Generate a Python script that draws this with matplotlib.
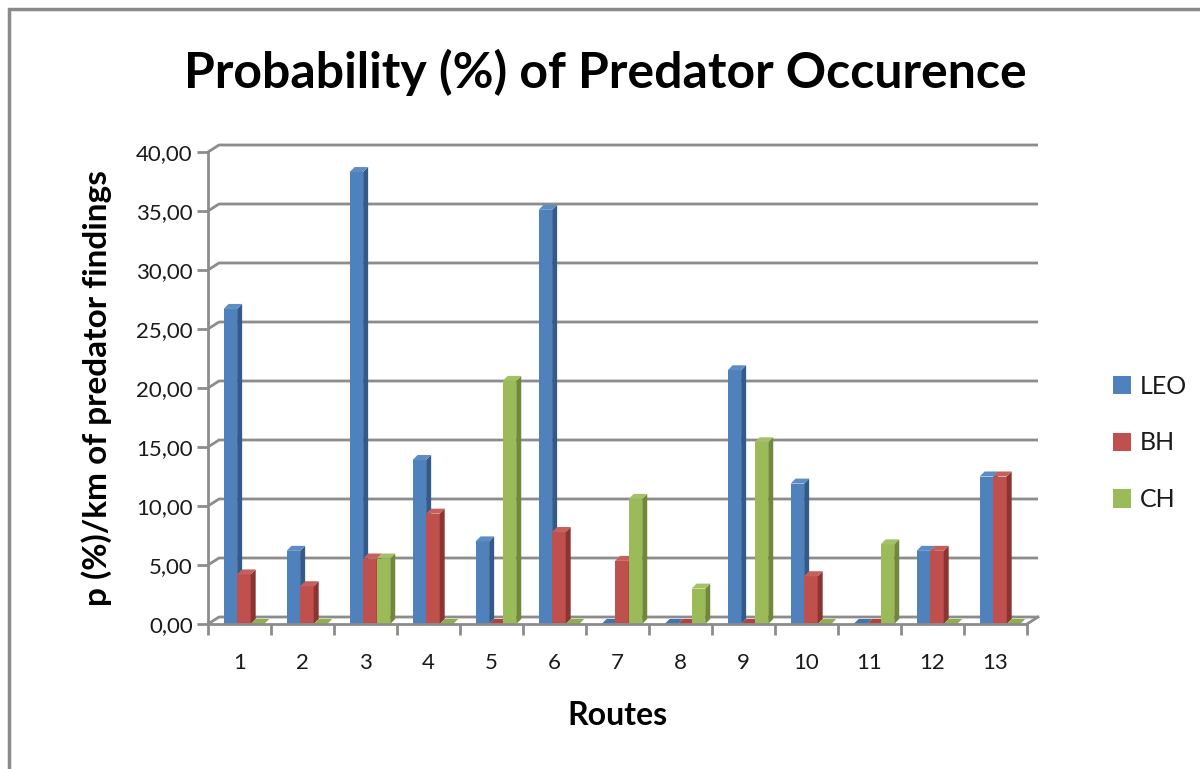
import matplotlib
matplotlib.use("Agg")
import matplotlib.pyplot as plt
from matplotlib.patches import Polygon, Patch, Rectangle
from matplotlib.ticker import FuncFormatter
import colorsys
import matplotlib.colors as mcolors

# ---- data ----
routes = ["1", "2", "3", "4", "5", "6", "7", "8", "9", "10", "11", "12", "13"]
leo = [26.7, 6.2, 38.3, 13.9, 7.0, 35.1, 0.0, 0.0, 21.5, 11.9, 0.0, 6.2, 12.5]
bh = [4.2, 3.2, 5.55, 9.35, 0.0, 7.8, 5.35, 0.0, 0.0, 4.05, 0.0, 6.2, 12.5]
ch = [0.0, 0.0, 5.55, 0.0, 20.6, 0.0, 10.6, 3.0, 15.4, 0.0, 6.75, 0.0, 0.0]
series_names = ["LEO", "BH", "CH"]
series_colors = ["#4F81BD", "#C0504D", "#9BBB59"]
yticks = [0, 5, 10, 15, 20, 25, 30, 35, 40]

FONT = ["Lato", "DejaVu Sans"]
plt.rcParams["font.family"] = FONT

W, H = 1200, 769
fig = plt.figure(figsize=(W / 100, H / 100), dpi=100)
fig.patch.set_facecolor("white")

# chart area border
fig.add_artist(Rectangle((9 / W, -0.05), 1.2, 1 - 9 / H + 0.05, transform=fig.transFigure,
                         fill=False, edgecolor="#8A8A8A", linewidth=2.5))

ax_l, ax_r, ax_b, ax_t = 208, 1027, 624, 152
ax = fig.add_axes([ax_l / W, 1 - ax_b / H, (ax_r - ax_l) / W, (ax_b - ax_t) / H])
ax.set_xlim(0.5, len(routes) + 0.5)
ax.set_ylim(0, 40)
ax.set_facecolor("none")

px_x = (len(routes)) / (ax_r - ax_l)   # data units per pixel (x)
px_y = 40.0 / (ax_b - ax_t)             # data units per pixel (y)

grid_c = "#8C8C8C"
# wall / floor depth
wdx, wdy = 11 * px_x, 7 * px_y
x0, x1 = 0.5, len(routes) + 0.5
for v in yticks:
    ax.plot([x0, x0 + wdx, x1 + wdx], [v, v + wdy, v + wdy], color=grid_c, lw=2,
            clip_on=False, zorder=1, solid_capstyle="butt")
# floor right edge
ax.plot([x1, x1 + wdx], [0, wdy], color=grid_c, lw=2, clip_on=False, zorder=1)

def shade(c, f):
    r, g, b = mcolors.to_rgb(c)
    h, l, s = colorsys.rgb_to_hls(r, g, b)
    l = max(0, min(1, l * f))
    return colorsys.hls_to_rgb(h, l, s)

bw = 0.215
offsets = [-0.145, 0.07, 0.285]
bdx, bdy = 5 * px_x, 5 * px_y
data = [leo, bh, ch]
z = 3
for i in range(len(routes)):
    xc = i + 1
    for s in range(3):
        v = data[s][i]
        c = series_colors[s]
        xl = xc + offsets[s] - bw / 2
        xr = xc + offsets[s] + bw / 2
        if v > 0:
            ax.bar(xc + offsets[s], v, width=bw, color=c, edgecolor="none", zorder=z)
            side = Polygon([(xr, 0), (xr + bdx, bdy), (xr + bdx, v + bdy), (xr, v)],
                           closed=True, facecolor=shade(c, 0.7), edgecolor="none",
                           zorder=z, clip_on=False)
            ax.add_patch(side)
        top = Polygon([(xl, v), (xl + bdx, v + bdy), (xr + bdx, v + bdy), (xr, v)],
                      closed=True, facecolor=shade(c, 1.08) if v > 0 else shade(c, 0.9),
                      edgecolor="none", zorder=z + 0.5, clip_on=False)
        ax.add_patch(top)
        z += 1

for sp in ["top", "right"]:
    ax.spines[sp].set_visible(False)
for sp in ["left", "bottom"]:
    ax.spines[sp].set_color(grid_c)
    ax.spines[sp].set_linewidth(2)
    ax.spines[sp].set_zorder(200)

ax.set_yticks(yticks)
ax.yaxis.set_major_formatter(FuncFormatter(lambda v, p: f"{v:.2f}".replace(".", ",")))
ax.tick_params(axis="y", length=8, width=2, color=grid_c, labelsize=16, pad=3,
               labelcolor="#1A1A1A")
ax.set_xticks(range(1, len(routes) + 1))
ax.set_xticklabels(routes)
ax.set_xticks([i + 0.5 for i in range(len(routes) + 1)], minor=True)
ax.tick_params(axis="x", which="major", length=0, labelsize=16, pad=21, labelcolor="#1A1A1A")
ax.tick_params(axis="x", which="minor", length=8, width=2, color=grid_c)

ax.set_xlabel("Routes", fontsize=23, fontweight="bold", labelpad=20)
ax.set_ylabel("p (%)/km of predator findings", fontsize=24, fontweight="bold", labelpad=17)

fig.text(605 / W, 1 - 72 / H, "Probability (%) of Predator Occurence", ha="center",
         va="center", fontsize=36, fontweight="bold")

handles = [Patch(facecolor=c, edgecolor="none") for c in series_colors]
fig.legend(handles, series_names, loc="center left", bbox_to_anchor=(1090 / W, 1 - 443 / H),
           frameon=False, fontsize=18, handlelength=0.75, handleheight=0.75,
           handletextpad=0.35, labelspacing=1.35, labelcolor="#1A1A1A")

fig.savefig("out.png", dpi=100)
